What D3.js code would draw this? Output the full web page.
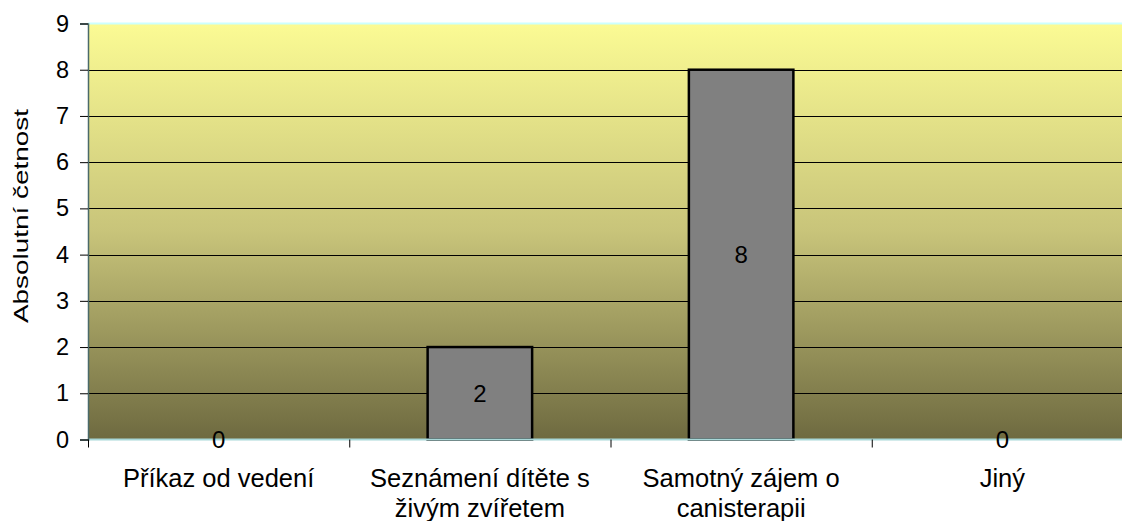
<!DOCTYPE html>
<html>
<head>
<meta charset="utf-8">
<script src="https://cdn.jsdelivr.net/npm/d3@7"></script>
<style>
  body { margin: 0; background: #fff; }
  text { font-family: "Liberation Sans", Arial, sans-serif; fill: #000; }
</style>
</head>
<body>
<div id="chart"></div>
<script>
// data
const categories = ['Příkaz od vedení', 'Seznámení dítěte s živým zvířetem', 'Samotný zájem o canisterapii', 'Jiný'];
const counts = [0, 2, 8, 0];
const yTicks = [0, 1, 2, 3, 4, 5, 6, 7, 8, 9];
const yTitle = 'Absolutní četnost';

const W = 1122, H = 521;
// plot area runs off the right edge, like in the original
const plotL = 88, plotT = 23.5, plotR = 1133, plotB = 439.5;

const svg = d3.select('#chart').append('svg')
  .attr('width', W)
  .attr('height', H);

const x = d3.scaleBand().domain(categories).range([plotL, plotR]).paddingInner(0).paddingOuter(0);
const y = d3.scaleLinear().domain([0, 9]).range([plotB, plotT]);
const barW = x.bandwidth() / 2.5; // gap width 150%

// background gradient
const grad = svg.append('defs').append('linearGradient')
  .attr('id', 'bg').attr('x1', 0).attr('y1', 0).attr('x2', 0).attr('y2', 1);
grad.append('stop').attr('offset', '0%').attr('stop-color', '#fbfb94');
grad.append('stop').attr('offset', '50%').attr('stop-color', '#c8c47a');
grad.append('stop').attr('offset', '100%').attr('stop-color', '#6e6a40');

svg.append('rect')
  .attr('x', plotL).attr('y', plotT)
  .attr('width', plotR - plotL).attr('height', plotB - plotT)
  .attr('fill', 'url(#bg)');

// light cyan border at top of the plot area
svg.append('line')
  .attr('x1', plotL).attr('x2', plotR).attr('y1', plotT).attr('y2', plotT)
  .attr('stroke', '#ccffff').attr('stroke-width', 2);

// gridlines
svg.append('g').selectAll('line')
  .data(yTicks.filter(d => d > 0 && d < 9))
  .enter().append('line')
  .attr('x1', plotL).attr('x2', plotR)
  .attr('y1', d => Math.round(y(d)) + 0.5).attr('y2', d => Math.round(y(d)) + 0.5)
  .attr('stroke', '#000').attr('stroke-width', 1);

// bars
svg.append('g').selectAll('rect')
  .data(counts.map((v, i) => ({cat: categories[i], v: v})).filter(d => d.v > 0))
  .enter().append('rect')
  .attr('x', d => x(d.cat) + (x.bandwidth() - barW) / 2)
  .attr('y', d => y(d.v))
  .attr('width', barW)
  .attr('height', d => y(0) - y(d.v))
  .attr('fill', '#808080')
  .attr('stroke', '#000')
  .attr('stroke-width', 2.5);

svg.append('line')
  .attr('x1', plotL).attr('x2', plotR).attr('y1', plotB).attr('y2', plotB)
  .attr('stroke', '#a8d8d8').attr('stroke-width', 2);

// y axis
const yAxis = svg.append('g')
  .attr('transform', 'translate(' + plotL + ',0)')
  .call(d3.axisLeft(y).tickValues(yTicks).tickSize(8).tickPadding(11).tickFormat(d3.format('d')));
yAxis.select('.domain').attr('stroke', '#4a6a6a').attr('stroke-width', 1.5);
yAxis.selectAll('.tick line').attr('stroke', '#000');
yAxis.selectAll('text')
  .style('font-size', '23.5px')
  .attr('font-family', null);

// x axis: ticks at category boundaries
const bounds = categories.map(c => x(c));
svg.append('g').selectAll('line')
  .data(bounds)
  .enter().append('line')
  .attr('x1', d => d + 0.5).attr('x2', d => d + 0.5)
  .attr('y1', plotB).attr('y2', plotB + 8)
  .attr('stroke', '#000');

// category labels, wrapped
const catText = svg.append('g').selectAll('text')
  .data(categories)
  .enter().append('text')
  .attr('x', d => x(d) + x.bandwidth() / 2)
  .attr('y', 487)
  .attr('text-anchor', 'middle')
  .style('font-size', '25.5px');

catText.each(function(d) {
  const t = d3.select(this);
  const words = d.split(' ');
  let line = [];
  let tspan = t.append('tspan').attr('x', t.attr('x')).attr('dy', 0);
  words.forEach(w => {
    line.push(w);
    tspan.text(line.join(' '));
    if (tspan.node().getComputedTextLength() > 240 && line.length > 1) {
      line.pop();
      tspan.text(line.join(' '));
      line = [w];
      tspan = t.append('tspan').attr('x', t.attr('x')).attr('dy', 30).text(w);
    }
  });
});

// value labels, centred in the bar
svg.append('g').selectAll('text')
  .data(counts.map((v, i) => ({cat: categories[i], v: v})))
  .enter().append('text')
  .attr('x', d => x(d.cat) + x.bandwidth() / 2)
  .attr('y', d => (y(d.v) + y(0)) / 2)
  .attr('dy', '0.35em')
  .attr('text-anchor', 'middle')
  .style('font-size', '24px')
  .text(d => d.v);

// y title, stretched along its length like the original
svg.append('text')
  .attr('transform', 'translate(27.5,216) rotate(-90)')
  .attr('text-anchor', 'middle')
  .attr('textLength', 214)
  .attr('lengthAdjust', 'spacingAndGlyphs')
  .style('font-size', '21px')
  .text(yTitle);
</script>
</body>
</html>
